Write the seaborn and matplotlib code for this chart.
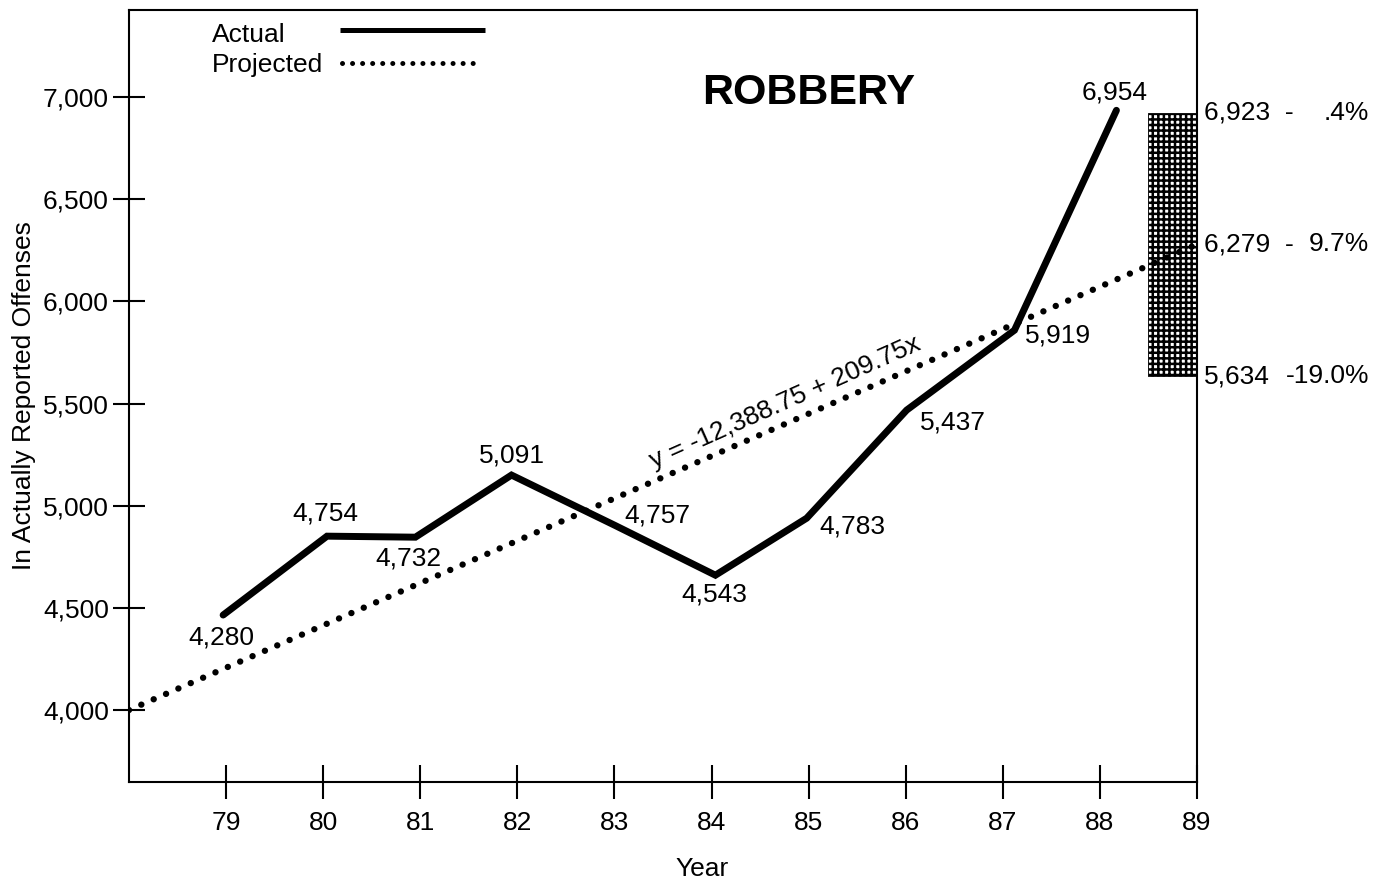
import matplotlib
matplotlib.use("Agg")
import matplotlib.pyplot as plt
import seaborn as sns
import pandas as pd

# plotted positions of the actual series (as drawn) and the printed values
years = [79, 80, 81, 82, 83, 84, 85, 86, 87, 88]
actual_x = [78.97, 80.04, 80.95, 81.94, 83.0, 84.04, 84.98, 86.01, 87.12, 88.17]
actual_y = [4465, 4851, 4846, 5150, 4905, 4660, 4939, 5468, 5859, 6935]
actual_labels = ["4,280", "4,754", "4,732", "5,091", "4,757",
                 "4,543", "4,783", "5,437", "5,919", "6,954"]
# label offsets in points (dx, dy) relative to each vertex
label_offsets = [(-1, -16), (-1, 16), (-5, -15), (0, 14), (31, 7),
                 (-1, -14), (33, -6), (33, -9), (31, -4), (-1, 13)]

# regression line y = -12,388.75 + 209.75x as drawn
proj_x = [78, 89]
proj_y = [4000, 6279]

# 1989 projection range
range_lo, range_hi = 5634, 6923
range_values = [6923, 6279, 5634]
range_left = ["6,923  -", "6,279  -", "5,634"]
range_right = [".4%", "9.7%", "-19.0%"]

x_ticks = [79, 80, 81, 82, 83, 84, 85, 86, 87, 88, 89]
y_ticks = [4000, 4500, 5000, 5500, 6000, 6500, 7000]

FS = 19

sns.set_style("white")
plt.rcParams['font.family'] = ['Liberation Sans', 'DejaVu Sans']
plt.rcParams['hatch.linewidth'] = 1.8
for k in ['text.color', 'axes.labelcolor', 'xtick.color', 'ytick.color']:
    plt.rcParams[k] = 'black'

fig = plt.figure(figsize=(13.88, 8.84), dpi=100)
ax = fig.add_axes([0.0929, 0.1154, 0.7695, 0.8733])

df_act = pd.DataFrame({'year': actual_x, 'value': actual_y})
df_proj = pd.DataFrame({'year': proj_x, 'value': proj_y})

# hatched range box (under the projection dots)
ax.fill_between([88.5, 89], range_lo, range_hi, facecolor='white',
                edgecolor='black', hatch='+++', linewidth=0.6, zorder=1)

sns.lineplot(data=df_proj, x='year', y='value', ax=ax, color='black',
             linewidth=4.6, linestyle=(0, (0.01, 2.1)), dash_capstyle='round',
             errorbar=None, zorder=3)
sns.lineplot(data=df_act, x='year', y='value', ax=ax, color='black',
             linewidth=5, solid_joinstyle='miter', errorbar=None, zorder=3)

for x, y, lab, (dx, dy) in zip(actual_x, actual_y, actual_labels, label_offsets):
    ax.annotate(lab, (x, y), xytext=(dx, dy), textcoords='offset points',
                ha='center', va='center', fontsize=FS)

for v, lt, rt in zip(range_values, range_left, range_right):
    ax.annotate(lt, (89, v), xytext=(5, 0), textcoords='offset points',
                ha='left', va='center', fontsize=FS, annotation_clip=False)
    ax.annotate(rt, (89, v), xytext=(124, 0), textcoords='offset points',
                ha='right', va='center', fontsize=FS, annotation_clip=False)

ax.text(84.76, 5507, "y = -12,388.75 + 209.75x", rotation=24,
        ha='center', va='center', fontsize=FS)
ax.text(0.636, 0.892, "ROBBERY", transform=ax.transAxes, ha='center',
        va='center', fontsize=31, fontweight='bold')

# legend drawn as in the original (text column, then key column)
ax.text(0.0776, 0.9585, "Actual", transform=ax.transAxes, fontsize=FS,
        va='baseline')
ax.text(0.0776, 0.9197, "Projected", transform=ax.transAxes, fontsize=FS,
        va='baseline')
ax.plot([0.1976, 0.3333], [0.974, 0.974], transform=ax.transAxes,
        color='black', linewidth=3.6, solid_capstyle='butt')
ax.plot([0.1995, 0.3310], [0.931, 0.931], transform=ax.transAxes,
        color='black', linewidth=3.6, linestyle=(0, (0.01, 2.0)),
        dash_capstyle='round')

ax.set_xlim(78, 89)
ax.set_ylim(3648, 7426)
ax.set_xticks(x_ticks)
ax.set_xticklabels([str(t) for t in x_ticks])
ax.set_yticks(y_ticks)
ax.set_yticklabels([f"{t:,}" for t in y_ticks])
ax.tick_params(axis='x', direction='inout', length=24, width=1.5,
               pad=9, labelsize=FS, color='black', bottom=True)
ax.tick_params(axis='y', direction='inout', length=23, width=1.5,
               pad=3, labelsize=FS, color='black', left=True)

ax.set_xlabel("Year", fontsize=FS)
ax.set_ylabel("In Actually Reported Offenses", fontsize=FS)
ax.xaxis.set_label_coords(0.537, -0.097)
ax.yaxis.set_label_coords(-0.087, 0.5)

for s in ax.spines.values():
    s.set_linewidth(1.5)
    s.set_color('black')

fig.savefig("out.png", dpi=100)
